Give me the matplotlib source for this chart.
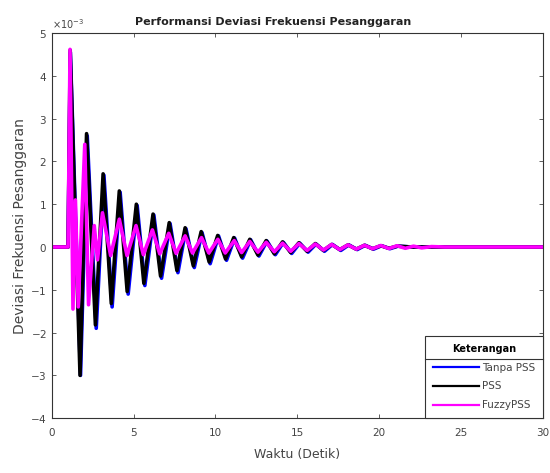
import numpy as np
import matplotlib
matplotlib.use("Agg")
import matplotlib.pyplot as plt
from matplotlib.lines import Line2D

# extreme points of each response (time in s, deviation in 1e-3)
t_pss = [0, 1.0, 1.13, 1.73, 2.13, 2.67, 3.14, 3.64, 4.13, 4.61, 5.17, 5.63, 6.19, 6.65,
         7.18, 7.65, 8.15, 8.65, 9.13, 9.62, 10.14, 10.62, 11.12, 11.6, 12.1, 12.6, 13.1,
         13.6, 14.1, 14.6, 15.1, 15.6, 16.1, 16.6, 17.1, 17.6, 18.1, 18.6, 19.1, 19.6,
         20.1, 20.6, 21.1, 22.0, 30.0]
v_pss = [0, 0, 4.6, -3.0, 2.65, -1.82, 1.71, -1.32, 1.31, -1.04, 1.0, -0.85, 0.77, -0.68,
         0.57, -0.55, 0.45, -0.44, 0.36, -0.35, 0.27, -0.28, 0.22, -0.23, 0.18, -0.19, 0.15,
         -0.16, 0.12, -0.13, 0.10, -0.10, 0.08, -0.08, 0.06, -0.06, 0.05, -0.05, 0.04, -0.04,
         0.03, -0.03, 0.02, 0, 0]

t_tanpa = [0, 1.0, 1.14, 1.76, 2.17, 2.72, 3.19, 3.69, 4.18, 4.67, 5.22, 5.69, 6.24, 6.71,
           7.23, 7.71, 8.2, 8.71, 9.18, 9.68, 10.19, 10.68, 11.17, 11.66, 12.15, 12.66, 13.15,
           13.66, 14.15, 14.66, 15.15, 15.66, 16.15, 16.66, 17.15, 17.66, 18.15, 18.66, 19.15,
           19.66, 20.15, 20.66, 21.15, 22.0, 30.0]
v_tanpa = [0, 0, 4.55, -3.0, 2.6, -1.9, 1.68, -1.4, 1.28, -1.1, 0.97, -0.9, 0.75, -0.73,
           0.55, -0.6, 0.43, -0.48, 0.34, -0.39, 0.26, -0.31, 0.21, -0.26, 0.17, -0.21, 0.14,
           -0.18, 0.11, -0.15, 0.09, -0.12, 0.07, -0.1, 0.06, -0.08, 0.05, -0.06, 0.04, -0.05,
           0.03, -0.04, 0.02, 0, 0]

t_fuzzy = [0, 1.0, 1.12, 1.3, 1.45, 1.62, 2.02, 2.25, 2.6, 2.8, 3.1, 3.6, 4.13, 4.6, 5.15,
           5.6, 6.15, 6.6, 7.15, 7.6, 8.15, 8.6, 9.15, 9.6, 10.15, 10.6, 11.15, 11.6, 12.1,
           12.6, 13.1, 13.6, 14.1, 14.6, 15.1, 15.6, 16.1, 16.6, 17.1, 17.6, 18.1, 18.6, 19.1,
           19.6, 20.1, 20.6, 21.1, 21.6, 22.1, 22.6, 23.2, 24.0, 30.0]
v_fuzzy = [0, 0, 4.62, -1.45, 1.1, -1.4, 2.4, -1.35, 0.5, -0.3, 0.8, -0.2, 0.65, -0.2,
           0.5, -0.18, 0.4, -0.16, 0.32, -0.15, 0.26, -0.14, 0.22, -0.14, 0.18, -0.14, 0.15,
           -0.13, 0.13, -0.12, 0.11, -0.11, 0.09, -0.1, 0.08, -0.08, 0.07, -0.07, 0.06, -0.06,
           0.05, -0.05, 0.04, -0.04, 0.035, -0.035, 0.03, -0.03, 0.02, -0.02, 0.01, 0, 0]

fig = plt.figure(figsize=(5.5, 4.73), dpi=100)
ax = fig.add_axes([0.094, 0.116, 0.893, 0.814])

ax.plot(t_tanpa, np.array(v_tanpa) * 1e-3, color=(0, 0, 1), lw=2.6, label="Tanpa PSS")
ax.plot(t_pss, np.array(v_pss) * 1e-3, color="k", lw=2.6, label="PSS")
ax.plot(t_fuzzy, np.array(v_fuzzy) * 1e-3, color=(1, 0, 1), lw=2.6, label="FuzzyPSS")

ax.set_xlim(0, 30)
ax.set_ylim(-4e-3, 5e-3)
ax.set_xticks(range(0, 31, 5))
ax.set_yticks(np.arange(-4, 6) * 1e-3)
ax.ticklabel_format(axis="y", style="sci", scilimits=(-3, -3), useMathText=True)
ax.yaxis.get_offset_text().set_fontsize(7)
ax.yaxis.get_offset_text().set_color("#555555")
ax.tick_params(direction="in", length=3, width=0.6, labelsize=7.5, colors="#444444",
               top=True, right=True)
ax.tick_params(axis="x", pad=7)
for s in ax.spines.values():
    s.set_color("#333333")
    s.set_linewidth(0.8)

ax.set_title("Performansi Deviasi Frekuensi Pesanggaran", fontsize=8,
             fontweight="bold", color="#222222", pad=6, x=0.45)
ax.set_xlabel("Waktu (Detik)", fontsize=9, color="#444444", labelpad=7)
ax.set_ylabel("Deviasi Frekuensi Pesanggaran", fontsize=10, color="#444444", labelpad=2)

leg = ax.legend(loc="lower right", borderaxespad=0, title="Keterangan",
                fancybox=False, edgecolor="#333333", framealpha=1, fontsize=7.5,
                title_fontproperties={"size": 7, "weight": "bold"},
                handlelength=4.4, handletextpad=0.3, labelspacing=0.85, borderpad=0.75)
leg.get_frame().set_linewidth(0.8)
for h in leg.get_lines():
    h.set_linewidth(1.6)
for txt in leg.get_texts():
    txt.set_color("#444444")

fig.canvas.draw()
lb = leg.get_window_extent()
tb = leg.get_title().get_window_extent()
y_sep = tb.y0 - 5
inv = fig.transFigure.inverted()
x0, y0 = inv.transform((lb.x0, y_sep))
x1, _ = inv.transform((lb.x1, y_sep))
fig.add_artist(Line2D([x0, x1], [y0, y0], color="#333333", lw=0.8))

fig.savefig("out.png", dpi=100)
